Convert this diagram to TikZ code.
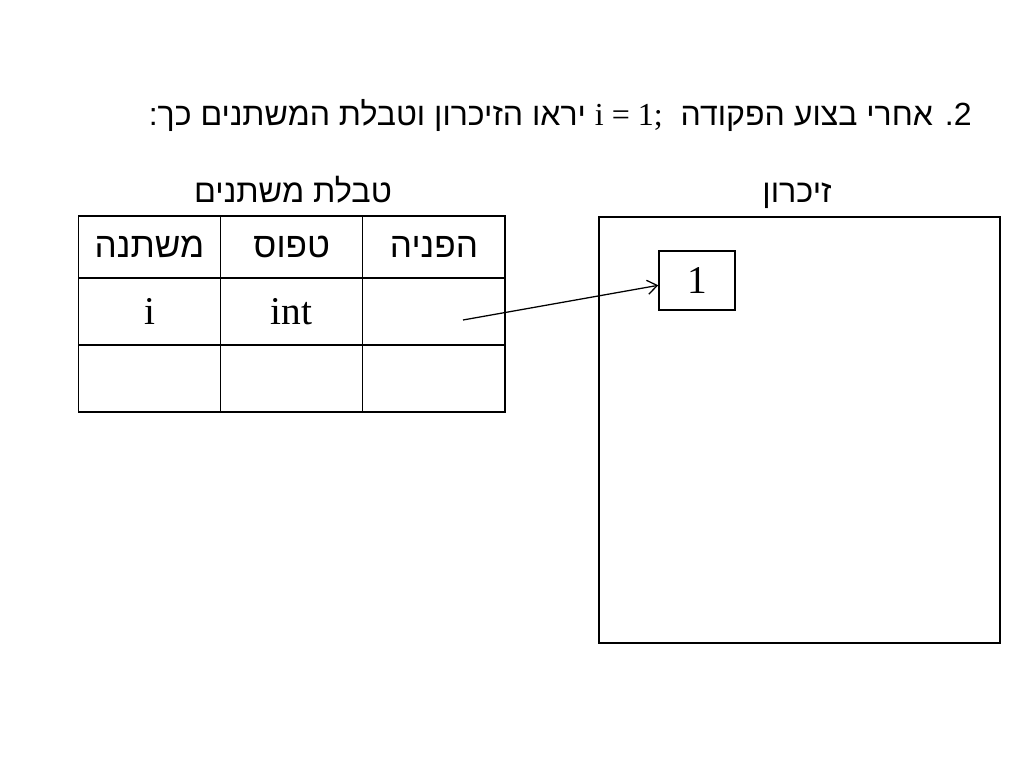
\documentclass[tikz,border=0pt]{standalone}
\usepackage{fontspec}
\setmainfont{Liberation Serif}
\newfontfamily\hebfont[Script=Hebrew]{Liberation Sans}
\TeXXeTstate=1
\usetikzlibrary{arrows.meta,positioning}

\begin{document}
\begin{tikzpicture}[x=0.025cm,y=-0.025cm,>={Straight Barb[length=7pt,width=10pt]},
  node distance=0pt, line width=0.9pt,
  cell/.style={draw,inner sep=0pt,outer sep=0pt,minimum width=3.555cm,minimum height=1.675cm,font=\fontsize{28}{32}\selectfont},
  head/.style={cell,minimum height=1.55cm,font=\hebfont\fontsize{25}{29}\selectfont},
  label/.style={anchor=base,font=\hebfont\fontsize{23}{27}\selectfont}]
  \useasboundingbox (0,0) rectangle (1024,768);

  \node[anchor=east, font=\hebfont\fontsize{22.8}{27}\selectfont] (title) at (977,115)
    {\beginR\beginL 2.\endL{} אחרי בצוע הפקודה \ \beginL{\rmfamily i = 1;}\endL{} יראו הזיכרון וטבלת המשתנים כך:\endR};

  % table of variables
  \node[label] (tlabel) at (293,202) {\beginR טבלת משתנים\endR};
  \node[head] (var) at (149.5,247) {\beginR משתנה\endR};
  \node[head, right=of var] (type) {\beginR טפוס\endR};
  \node[head, right=of type] (ref) {\beginR הפניה\endR};
  \node[cell, below=of var] (vari) {i};
  \node[cell, below=of type] (typei) {int};
  \node[cell, below=of ref] (refi) {};
  \node[cell, below=of vari] (var2) {};
  \node[cell, below=of typei] (type2) {};
  \node[cell, below=of refi] (ref2) {};

  % memory
  \node[label] (mlabel) at (797,202) {\beginR זיכרון\endR};
  \node[draw, minimum width=10.025cm, minimum height=10.65cm] (mem) at (799.5,430) {};
  \node[draw, minimum width=1.9cm, minimum height=1.475cm, font=\fontsize{28}{32}\selectfont] (val) at (697,280.5) {1};

  \coordinate (p) at (463,320);
  \draw[->] (p) -- ([yshift=-0.12cm]val.west);
\end{tikzpicture}
\end{document}
